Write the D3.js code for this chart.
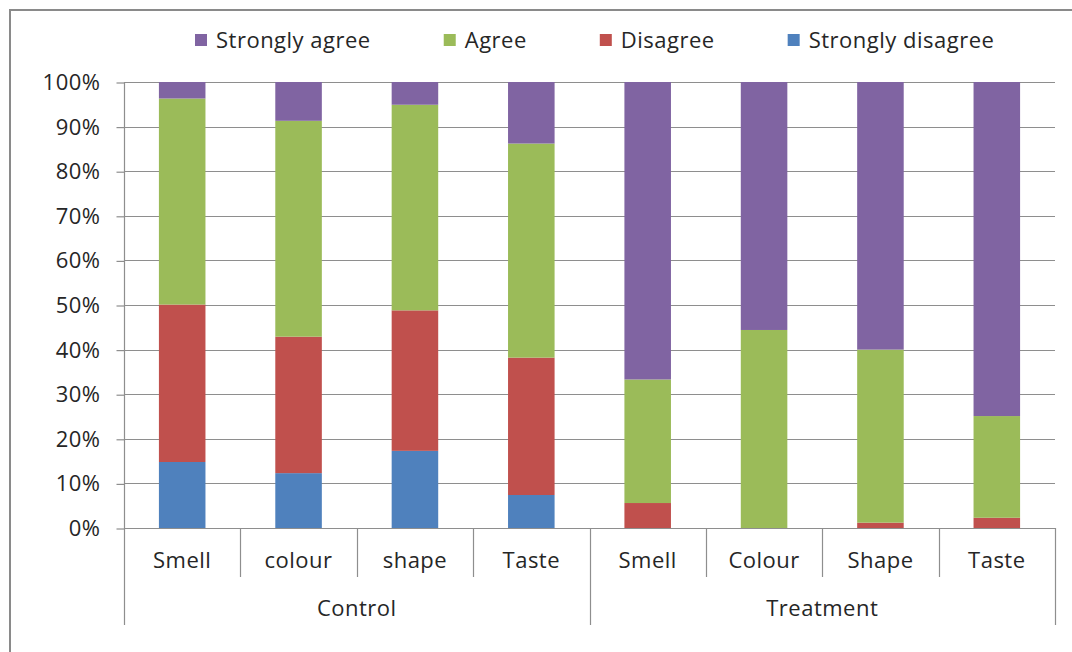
<!DOCTYPE html>
<html>
<head>
<meta charset="utf-8">
<script src="https://cdn.jsdelivr.net/npm/d3@7"></script>
<style>
  html, body { margin: 0; padding: 0; background: #fff; }
  svg { display: block; font-family: 'Open Sans', sans-serif; letter-spacing: 0.5px; }
</style>
</head>
<body>
<div id="chart"></div>
<script>
const groups = ['Control', 'Treatment'];
const categories = ['Smell', 'colour', 'shape', 'Taste', 'Smell', 'Colour', 'Shape', 'Taste'];
const categoryGroup = ['Control', 'Control', 'Control', 'Control', 'Treatment', 'Treatment', 'Treatment', 'Treatment'];

const stronglyDisagree = [14.8, 12.3, 17.3, 7.4, 0, 0, 0, 0];
const disagree = [35.3, 30.6, 31.5, 30.8, 5.6, 0, 1.2, 2.3];
const agree = [46.2, 48.4, 46.1, 48.0, 27.7, 44.4, 38.8, 22.8];
const stronglyAgree = [3.7, 8.7, 5.1, 13.8, 66.7, 55.6, 60.0, 74.9];

const seriesNames = ['Strongly disagree', 'Disagree', 'Agree', 'Strongly agree'];
const seriesColors = ['#4f81bd', '#c0504d', '#9bbb59', '#8064a2'];
const legendOrder = ['Strongly agree', 'Agree', 'Disagree', 'Strongly disagree'];
const yTicks = [0, 10, 20, 30, 40, 50, 60, 70, 80, 90, 100];

const W = 1072, H = 652;
const plotLeft = 124, plotRight = 1055, plotTop = 82, plotBottom = 528;
const gridColor = '#8e8e8e';
const textColor = '#262626';
const fontSize = 22;

const rows = categories.map((c, i) => ({
  key: categoryGroup[i] + '|' + c,
  'Strongly disagree': stronglyDisagree[i],
  'Disagree': disagree[i],
  'Agree': agree[i],
  'Strongly agree': stronglyAgree[i],
}));

const svg = d3.select('#chart').append('svg')
  .attr('width', W).attr('height', H);

// outer frame (top and left edges only visible)
svg.append('path')
  .attr('d', `M10,${H} V10 H${W}`)
  .attr('fill', 'none').attr('stroke', '#8a8a8a').attr('stroke-width', 2);

const x = d3.scaleBand().domain(rows.map(d => d.key)).range([plotLeft, plotRight]).padding(0);
const y = d3.scaleLinear().domain([0, 100]).range([plotBottom, plotTop]);
const color = d3.scaleOrdinal().domain(seriesNames).range(seriesColors);

// gridlines
svg.append('g').selectAll('line').data(yTicks).join('line')
  .attr('x1', plotLeft).attr('x2', plotRight)
  .attr('y1', d => Math.round(y(d)) + 0.5).attr('y2', d => Math.round(y(d)) + 0.5)
  .attr('stroke', gridColor).attr('stroke-width', 1.2);

// y axis
const yAxis = svg.append('g')
  .attr('transform', `translate(${plotLeft + 0.5},0.5)`)
  .call(d3.axisLeft(y).tickValues(yTicks).tickFormat(d => d + '%').tickSize(8).tickPadding(16));
yAxis.select('.domain').remove();
yAxis.selectAll('.tick line').attr('stroke', gridColor).attr('stroke-width', 1.2);
yAxis.selectAll('.tick text')
  .attr('fill', textColor).attr('font-size', fontSize).attr('font-family', "'Open Sans', sans-serif");

// bars
const stacked = d3.stack().keys(seriesNames)(rows);
const barW = x.bandwidth() * 0.4;
svg.append('g').selectAll('g').data(stacked).join('g')
  .attr('fill', d => color(d.key))
  .selectAll('rect').data(d => d).join('rect')
  .attr('x', d => x(d.data.key) + (x.bandwidth() - barW) / 2)
  .attr('width', barW)
  .attr('y', d => y(d[1]))
  .attr('height', d => y(d[0]) - y(d[1]));

// category axis: left line, separators
const sepG = svg.append('g').attr('stroke', gridColor).attr('stroke-width', 1.2);
sepG.append('line')
  .attr('x1', plotLeft + 0.5).attr('x2', plotLeft + 0.5).attr('y1', plotTop).attr('y2', 625);
rows.forEach((r, i) => {
  const xe = Math.round(x(r.key) + x.bandwidth()) + 0.5;
  const groupEnd = i === rows.length - 1 || categoryGroup[i] !== categoryGroup[i + 1];
  sepG.append('line')
    .attr('x1', xe).attr('x2', xe).attr('y1', plotBottom).attr('y2', groupEnd ? 625 : 577);
});

// category labels
svg.append('g').selectAll('text').data(rows).join('text')
  .attr('x', d => x(d.key) + x.bandwidth() / 2)
  .attr('y', 568)
  .attr('text-anchor', 'middle').attr('fill', textColor).attr('font-size', fontSize)
  .text((d, i) => categories[i]);

// group labels
svg.append('g').selectAll('text').data(groups).join('text')
  .attr('x', g => {
    const keys = rows.filter((r, i) => categoryGroup[i] === g).map(r => r.key);
    const x0 = x(keys[0]);
    const x1 = x(keys[keys.length - 1]) + x.bandwidth();
    return (x0 + x1) / 2;
  })
  .attr('y', 616)
  .attr('text-anchor', 'middle').attr('fill', textColor).attr('font-size', fontSize)
  .text(g => g);

// legend
const legend = svg.append('g').attr('transform', 'translate(195,0)');
let lx = 0;
legendOrder.forEach(name => {
  const item = legend.append('g').attr('transform', `translate(${lx},0)`);
  item.append('rect').attr('x', 0).attr('y', 34).attr('width', 12).attr('height', 12)
    .attr('fill', color(name));
  const t = item.append('text').attr('x', 21).attr('y', 48)
    .attr('fill', textColor).attr('font-size', fontSize).text(name);
  lx += 21 + t.node().getComputedTextLength() + 73;
});
</script>
</body>
</html>
